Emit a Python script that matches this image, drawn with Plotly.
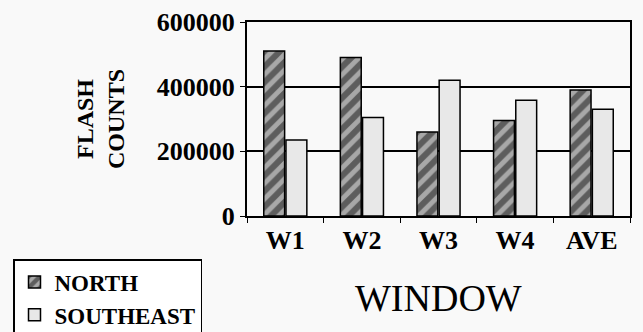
import plotly.graph_objects as go

categories = ["W1", "W2", "W3", "W4", "AVE"]
north = [510000, 490000, 260000, 295000, 390000]
southeast = [235000, 305000, 420000, 358000, 330000]
y_ticks = [0, 200000, 400000, 600000]
y_tick_labels = ["0", "200000", "400000", "600000"]

SERIF = "Liberation Serif, Times New Roman, serif"
BG = "#f9f9f9"
L, R, T, B = 247, 13, 22, 116
PW, PH = 643 - L - R, 332 - T - B

fig = go.Figure()
fig.add_trace(go.Bar(
    name="NORTH", x=categories, y=north,
    marker=dict(color="#a0a0a0", line=dict(color="black", width=1.5),
                pattern=dict(shape="/", fgcolor="#111111", bgcolor="#a8a8a8",
                             size=11, solidity=0.55)),
))
fig.add_trace(go.Bar(
    name="SOUTHEAST", x=categories, y=southeast,
    marker=dict(color="#e8e8e8", line=dict(color="black", width=1.5)),
))

fig.update_layout(
    width=643, height=332,
    margin=dict(l=L, r=R, t=T, b=B, autoexpand=False),
    paper_bgcolor=BG, plot_bgcolor=BG,
    barmode="group", bargap=0.42, bargroupgap=0.06,
    font=dict(family=SERIF, color="black"),
    showlegend=True,
    legend=dict(
        xref="paper", yref="paper",
        x=(13 - L) / PW, y=(332 - B - 259) / PH, xanchor="left", yanchor="top",
        bgcolor="white", bordercolor="black", borderwidth=1.5,
        font=dict(family=SERIF, size=23, weight="bold", color="black"),
        itemwidth=30, tracegroupgap=0,
    ),
    xaxis=dict(
        showline=True, linecolor="black", linewidth=2, mirror=True,
        ticks="outside", tickson="boundaries", ticklen=5, tickcolor="black",
        tickfont=dict(family=SERIF, size=26, weight="bold"),
        showgrid=False, automargin=False,
    ),
    yaxis=dict(
        range=[0, 600000], tickvals=y_ticks, ticktext=y_tick_labels,
        showline=True, linecolor="black", linewidth=2, mirror=True,
        ticks="outside", ticklen=5, tickcolor="black",
        tickfont=dict(family=SERIF, size=26, weight="bold"),
        showgrid=True, gridcolor="black", gridwidth=1.5,
        zeroline=False, automargin=False,
    ),
    annotations=[
        dict(text="FLASH<br>COUNTS", xref="paper", yref="paper",
             x=(100 - L) / PW, y=0.5, textangle=-90, showarrow=False,
             xanchor="center", yanchor="middle",
             font=dict(family=SERIF, size=24, weight="bold")),
        dict(text="WINDOW", xref="paper", yref="paper",
             x=0.5, y=(332 - B - 298) / PH, showarrow=False,
             xanchor="center", yanchor="middle",
             font=dict(family=SERIF, size=38)),
    ],
)

fig.write_html(
    "out.html",
    config={"displayModeBar": False},
    post_script="document.body.style.margin='0';document.body.style.background='%s';" % BG,
)
